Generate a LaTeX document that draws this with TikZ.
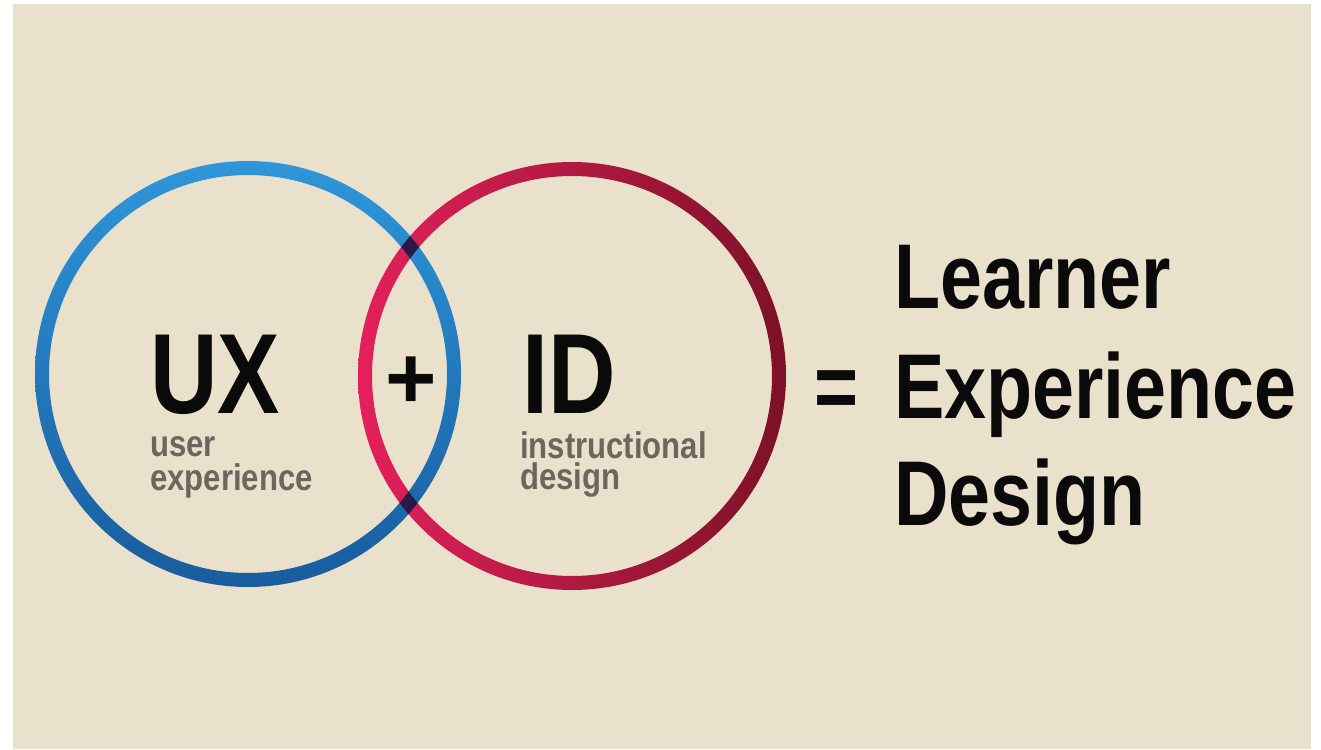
\documentclass[tikz,border=0pt]{standalone}
\usepackage{fontspec}
\setmainfont{Liberation Sans}
\newfontfamily\cond[FakeStretch=0.82]{Liberation Sans}
\newfontfamily\condsub[FakeStretch=0.84]{Liberation Sans}
\newfontfamily\plain{Liberation Sans}
\definecolor{bgbeige}{RGB}{233,225,204}
\definecolor{ink}{RGB}{10,10,10}
\definecolor{greytxt}{RGB}{107,103,94}
\definecolor{bluetop}{RGB}{46,150,218}
\definecolor{bluebot}{RGB}{24,92,158}
\definecolor{redleft}{RGB}{228,32,92}
\definecolor{redright}{RGB}{124,18,38}
\definecolor{crossdark}{RGB}{42,24,72}
\tikzset{
  big/.style={anchor=base west,inner sep=0pt,text=ink,font=\cond\bfseries\fontsize{114}{114}\selectfont},
  sub/.style={anchor=base west,inner sep=0pt,text=greytxt,font=\condsub\bfseries\fontsize{37}{34}\selectfont},
  result/.style={anchor=base west,inner sep=0pt,text=ink,font=\cond\bfseries\fontsize{92}{92}\selectfont},
  opsign/.style={inner sep=0pt,text=ink,font=\plain\bfseries\fontsize{88}{88}\selectfont}
}
\begin{document}
\begin{tikzpicture}[x=1pt,y=-1pt]
\useasboundingbox (0,0) rectangle (1321,749);
\fill[white] (0,0) rectangle (1321,749);
\fill[bgbeige] (13,4) rectangle (1311,749);
% red circle (instructional design)
\coordinate (rc) at (572,376);
\coordinate (bc) at (248,374);
\shade[left color=redleft,right color=redright,even odd rule]
  (rc) circle[radius=214] (rc) circle[radius=200];
% blue circle (user experience)
\shade[top color=bluetop,bottom color=bluebot,even odd rule]
  (bc) circle[radius=213] (bc) circle[radius=199];
% dark overlaps
\begin{scope}[even odd rule]
  \clip (bc) circle[radius=213] (bc) circle[radius=199];
  \fill[crossdark] (rc) circle[radius=214] (rc) circle[radius=200];
\end{scope}
% texts
\node[big] (ux) at (150,413) {UX};
\node[sub] (ux1) at (150,456) {user};
\node[sub] (ux2) at (150,490) {experience};
\node[big] (id) at (522,413) {ID};
\node[sub] (id1) at (520,458) {instructional};
\node[sub] (id2) at (520,489) {design};
\node[opsign] (plus) at (411,383) {+};
\node[result] (eq) at (814,418) {=};
\node[result] (l1) at (894,308) {Learner};
\node[result] (l2) at (894,418) {Experience};
\node[result] (l3) at (894,525) {Design};
\end{tikzpicture}
\end{document}
